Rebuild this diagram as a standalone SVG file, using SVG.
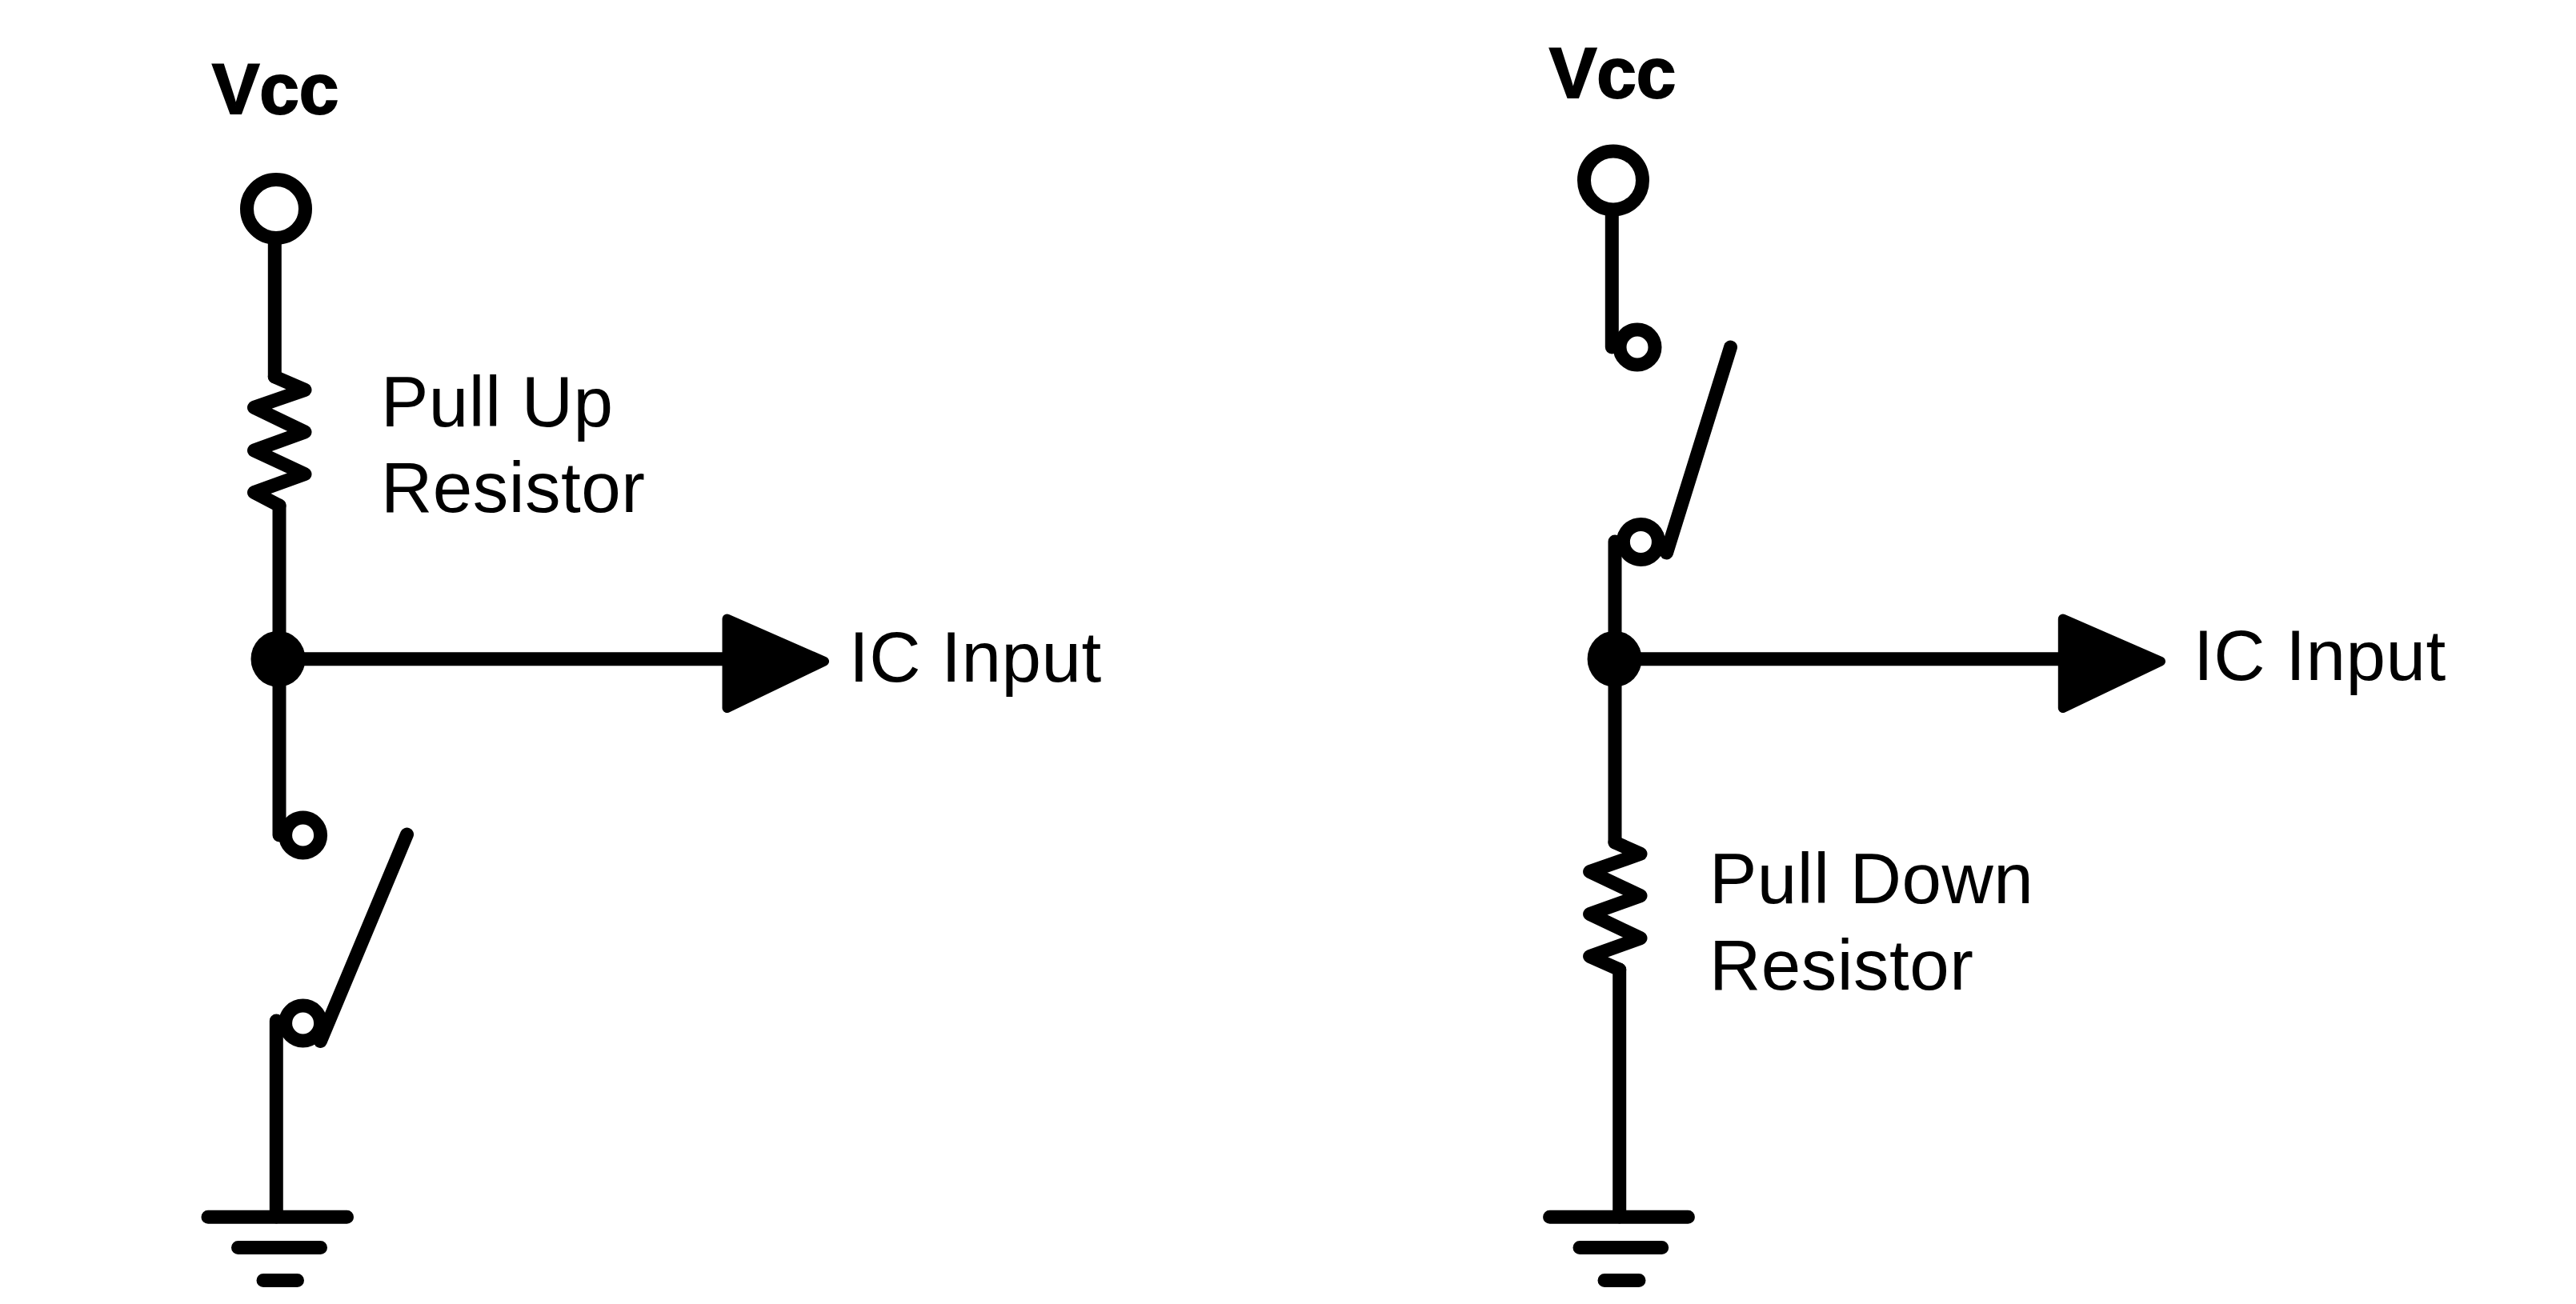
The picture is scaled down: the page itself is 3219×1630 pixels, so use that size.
<svg xmlns="http://www.w3.org/2000/svg" width="3219" height="1630" viewBox="0 0 3219 1630">
<style>
.w{fill:none;stroke:#000;stroke-width:17;stroke-linecap:round;stroke-linejoin:round}
.t{fill:#fff;stroke:#000;stroke-width:17}
.d{fill:#000}
.a{fill:#000;stroke:#000;stroke-width:12;stroke-linejoin:round}
.l{font-family:"Liberation Sans",Arial,sans-serif;font-size:89px;fill:#000;letter-spacing:.5px}
.b{font-weight:bold;stroke:#000;stroke-width:2px;letter-spacing:0}
</style>
<rect width="3219" height="1630" fill="#fff"/>
<g id="connectors">
<path class="w" d="M343.3 261V471"/>
<path class="w" d="M349 632V823.7"/>
<path class="w" d="M349 823.7V1044"/>
<path class="w" d="M345.3 1276V1521"/>
<path class="w" d="M347.5 823.7H905"/>
<path class="w" d="M2014.3 225.4V434"/>
<path class="w" d="M2018 677V823.7"/>
<path class="w" d="M2018 823.7V1053"/>
<path class="w" d="M2023.7 1212V1521"/>
<path class="w" d="M2017.6 823.7H2575"/>
</g>
<g id="vcc-left"><circle class="t" cx="345" cy="261" r="36.5"/><text class="l b" x="265" y="142">Vcc</text></g>
<g id="resistor-pullup"><path class="w" d="M343.3 471L381 487.4L317.5 509.4L381 540L317.5 563L381 592.6L317.5 615.5L349 632"/></g>
<g id="label-pullup"><text class="l" x="476" y="533">Pull Up</text><text class="l" x="476" y="639.5">Resistor</text></g>
<g id="junction-left"><ellipse class="d" cx="347.5" cy="823.7" rx="34" ry="35"/></g>
<g id="arrow-left"><polygon class="a" points="908.5,773.5 1030,826.7 908.5,885"/></g>
<g id="label-ic-left"><text class="l" x="1061" y="852">IC Input</text></g>
<g id="switch-left">
<path class="w" d="M508.5 1043L400.4 1301.5"/>
<circle class="t" cx="378.6" cy="1044" r="22"/>
<circle class="t" cx="378.6" cy="1279" r="22"/>
</g>
<g id="ground-left">
<path class="w" d="M260 1521.3H433.5M297.5 1559.5H400.5M329 1600.4H371.5"/>
</g>
<g id="vcc-right"><circle class="t" cx="2016" cy="225.4" r="36.5"/><text class="l b" x="1936" y="122">Vcc</text></g>
<g id="switch-right">
<path class="w" d="M2162.5 434L2082.6 691"/>
<circle class="t" cx="2046" cy="434" r="22"/>
<circle class="t" cx="2050.4" cy="677.4" r="22"/>
</g>
<g id="junction-right"><ellipse class="d" cx="2017.6" cy="823.7" rx="34" ry="35"/></g>
<g id="arrow-right"><polygon class="a" points="2577.8,773.5 2700,826.7 2577.8,885"/></g>
<g id="label-ic-right"><text class="l" x="2741" y="850">IC Input</text></g>
<g id="resistor-pulldown"><path class="w" d="M2018 1053L2050 1067.3L1986.6 1089.6L2050 1119.7L1986.6 1142.5L2050 1172.7L1986.6 1195.4L2023.7 1212"/></g>
<g id="label-pulldown"><text class="l" x="2136" y="1129.3">Pull Down</text><text class="l" x="2136" y="1236.7">Resistor</text></g>
<g id="ground-right">
<path class="w" d="M1936.6 1521.3H2109.4M1974 1559.5H2076.7M2005 1600.4H2048"/>
</g>
</svg>
